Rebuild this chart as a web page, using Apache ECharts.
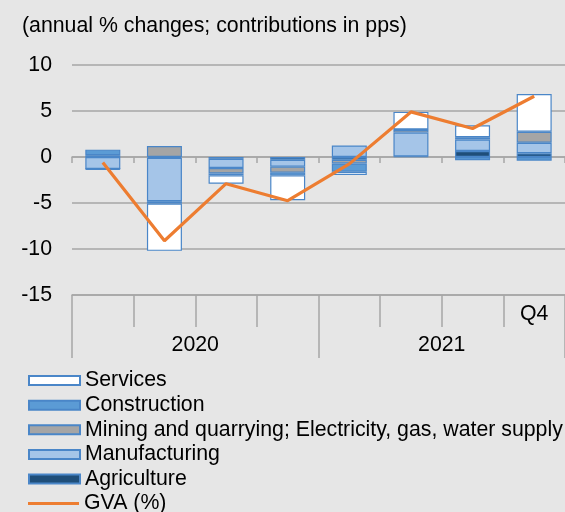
<!DOCTYPE html>
<html>
<head>
<meta charset="utf-8">
<script src="https://cdn.jsdelivr.net/npm/echarts@6/dist/echarts.min.js"></script>
<style>
html,body{margin:0;padding:0;background:#e6e6e6;}
#chart{width:565px;height:512px;}
</style>
</head>
<body>
<div id="chart"></div>
<script>
const categories = ['2020 Q1','2020 Q2','2020 Q3','2020 Q4','2021 Q1','2021 Q2','2021 Q3','2021 Q4'];
const quarterLabels = ['', '', '', '', '', '', '', 'Q4'];
const years = ['2020', '2021'];
const agriculture   = [0.2, -0.1, -0.2, -0.3, -0.3, 0.05, 0.65, 0.4];
const manufacturing = [-1.3, -4.7, -1.0, -0.75, 1.25, 2.6, 1.25, 1.15];
const mining        = [0, 1.2, -0.6, -0.65, -0.4, 0.3, 0.25, 1.2];
const construction  = [0.6, -0.25, -0.2, -0.3, -0.9, 0.05, -0.35, -0.4];
const services      = [-0.1, -5.15, -0.9, -2.7, -0.35, 1.9, 1.3, 4.1];
const gva           = [-0.6, -9.1, -2.9, -4.75, -0.75, 4.9, 3.1, 6.6];
const yTicks = { min: -15, max: 10, interval: 5 };

const FONT = "'Liberation Sans', Arial, sans-serif";
const FS = 21.3;
const GRID_COLOR = '#a6a6a6';
const BORDER = '#4a86c8';

function barSeries(name, data, color) {
  return {
    name: name, type: 'bar', stack: 'total', data: data,
    xAxisIndex: 0, yAxisIndex: 0,
    barWidth: 35,
    itemStyle: { color: color, borderColor: BORDER, borderWidth: 1.2 },
    emphasis: { disabled: true }
  };
}

const legendText = { fontFamily: FONT, fontSize: FS, color: '#000', lineHeight: 21.2 };

const chart = echarts.init(document.getElementById('chart'));
chart.setOption({
  backgroundColor: '#e6e6e6',
  animation: false,
  textStyle: { fontFamily: FONT },
  title: {
    text: '(annual % changes; contributions in pps)',
    left: 22, top: 16, padding: 0,
    textStyle: { fontFamily: FONT, fontSize: FS, fontWeight: 'normal', color: '#000' }
  },
  grid: { left: 72, right: -5, top: 65, bottom: 217 },
  legend: [
    {
      orient: 'vertical', left: 28, top: 370, padding: 0,
      itemWidth: 51, itemHeight: 9, itemGap: 3.4,
      icon: 'rect',
      textStyle: legendText,
      data: ['Services', 'Construction', 'Mining and quarrying; Electricity, gas, water supply', 'Manufacturing', 'Agriculture']
    },
    {
      orient: 'vertical', left: 28, top: 493, padding: 0,
      itemWidth: 51, itemHeight: 9, itemGap: 0,
      textStyle: legendText,
      data: [{ name: 'GVA (%)', icon: 'path://M0,0 L51,0 L51,3 L0,3 Z' }]
    }
  ],
  xAxis: [
    {
      type: 'category', data: categories,
      axisLine: { onZero: true, lineStyle: { color: GRID_COLOR, width: 1.5 } },
      axisTick: { show: true, length: 6, interval: 0, lineStyle: { color: GRID_COLOR, width: 1.5 } },
      axisLabel: { show: false }
    },
    {
      type: 'category', data: quarterLabels, position: 'bottom',
      axisLine: { onZero: false, lineStyle: { color: GRID_COLOR, width: 1.5 } },
      axisTick: { show: true, length: 32, interval: 0, lineStyle: { color: GRID_COLOR, width: 1.5 } },
      axisLabel: { interval: 0, margin: 9, fontSize: FS, color: '#000', fontFamily: FONT }
    },
    {
      type: 'category', data: years, position: 'bottom',
      axisLine: { onZero: false, show: false },
      axisTick: { show: true, length: 63, interval: 0, lineStyle: { color: GRID_COLOR, width: 1.5 } },
      axisLabel: { interval: 0, margin: 40, fontSize: FS, color: '#000', fontFamily: FONT }
    }
  ],
  yAxis: {
    type: 'value', min: yTicks.min, max: yTicks.max, interval: yTicks.interval,
    axisLine: { show: false }, axisTick: { show: false },
    axisLabel: { margin: 20, fontSize: FS, color: '#000', fontFamily: FONT },
    splitLine: { lineStyle: { color: GRID_COLOR, width: 1.5 } }
  },
  series: [
    barSeries('Agriculture', agriculture, '#1f4e79'),
    barSeries('Manufacturing', manufacturing, '#a5c5e8'),
    barSeries('Mining and quarrying; Electricity, gas, water supply', mining, '#a5a5a5'),
    barSeries('Construction', construction, '#5b9bd5'),
    barSeries('Services', services, '#ffffff'),
    {
      name: 'GVA (%)', type: 'line', data: gva, xAxisIndex: 0, yAxisIndex: 0,
      symbol: 'none', z: 5,
      lineStyle: { color: '#ed7d31', width: 3.2 },
      itemStyle: { color: '#ed7d31' },
      emphasis: { disabled: true }
    }
  ]
});
</script>
</body>
</html>
